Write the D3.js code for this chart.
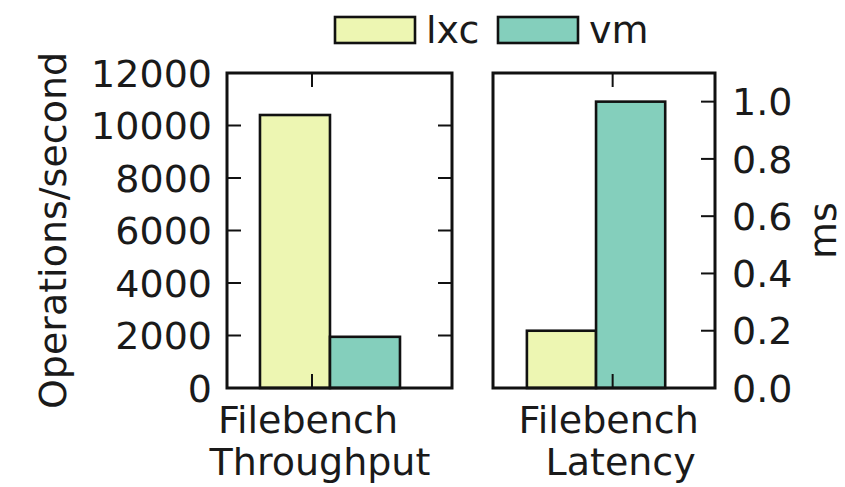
<!DOCTYPE html>
<html>
<head>
<meta charset="utf-8">
<script src="https://cdn.jsdelivr.net/npm/d3@7"></script>
<style>
  html, body { margin: 0; padding: 0; background: #fff; }
  svg { display: block; }
  text { font-family: "DejaVu Sans", sans-serif; fill: #1a1a1a; }
</style>
</head>
<body>
<svg id="chart" width="845" height="487"></svg>
<script>
// ---- data ----
const seriesNames = ["lxc", "vm"];
const seriesColors = ["#edf6b2", "#84cfbc"];
const throughputCategory = ["Filebench", "Throughput"];
const latencyCategory = ["Filebench", "Latency"];
const throughputValues = [10400, 1950];   // lxc, vm (Operations/second)
const latencyValues = [0.2, 1.0];         // lxc, vm (ms)
const throughputTicks = [0, 2000, 4000, 6000, 8000, 10000, 12000];
const latencyTicks = [0, 0.2, 0.4, 0.6, 0.8, 1.0];
const throughputMax = 12000;
const latencyMax = 1.1;

(function () {
// ---- layout ----
const svg = d3.select("#chart");
const plotTop = 73, plotBottom = 388;
const fontSize = 38;
const tickLen = 14;
const edge = "#111";

const panels = [
  { values: throughputValues, label: throughputCategory, ticks: throughputTicks, ymax: throughputMax,
    px: [227, 452], xdom: [-0.471, 2.743], tickPos: 0.743, axisSide: "left", mirror: true,
    fmt: d => String(d) },
  { values: latencyValues, label: latencyCategory, ticks: latencyTicks, ymax: latencyMax,
    px: [493, 715], xdom: [-0.49, 2.72], tickPos: 1.24, axisSide: "right", mirror: false,
    fmt: d3.format(".1f") }
];

panels.forEach(p => {
  const x = d3.scaleLinear().domain(p.xdom).range(p.px);
  const y = d3.scaleLinear().domain([0, p.ymax]).range([plotBottom, plotTop]);
  const g = svg.append("g");

  // bars
  g.selectAll("rect.bar").data(p.values).enter().append("rect")
    .attr("class", "bar")
    .attr("x", (d, i) => x(i))
    .attr("width", (d, i) => x(i + 1) - x(i))
    .attr("y", d => y(d))
    .attr("height", d => y(0) - y(d))
    .attr("fill", (d, i) => seriesColors[i])
    .attr("stroke", edge)
    .attr("stroke-width", 2.6);

  // y axis ticks (inward) + labels
  const yAxisX = p.axisSide === "left" ? p.px[0] : p.px[1];
  const dir = p.axisSide === "left" ? 1 : -1;
  p.ticks.forEach(t => {
    const yy = y(t);
    if (t !== 0 && yy > plotTop + 1) {
      g.append("line").attr("x1", yAxisX).attr("x2", yAxisX + dir * tickLen)
        .attr("y1", yy).attr("y2", yy).attr("stroke", edge).attr("stroke-width", 2);
      if (p.mirror) {
        g.append("line").attr("x1", p.px[1]).attr("x2", p.px[1] - tickLen)
          .attr("y1", yy).attr("y2", yy).attr("stroke", edge).attr("stroke-width", 2);
      }
    }
    g.append("text")
      .attr("x", p.axisSide === "left" ? yAxisX - 15 : yAxisX + 17)
      .attr("y", yy)
      .attr("dy", "0.36em")
      .attr("text-anchor", p.axisSide === "left" ? "end" : "start")
      .attr("font-size", fontSize)
      .text(p.fmt(t));
  });

  // x ticks top and bottom (inward)
  const tx = x(p.tickPos);
  g.append("line").attr("x1", tx).attr("x2", tx).attr("y1", plotTop).attr("y2", plotTop + tickLen)
    .attr("stroke", edge).attr("stroke-width", 2);
  g.append("line").attr("x1", tx).attr("x2", tx).attr("y1", plotBottom).attr("y2", plotBottom - tickLen)
    .attr("stroke", edge).attr("stroke-width", 2);

  // frame
  g.append("rect").attr("x", p.px[0]).attr("y", plotTop)
    .attr("width", p.px[1] - p.px[0]).attr("height", plotBottom - plotTop)
    .attr("fill", "none").attr("stroke", edge).attr("stroke-width", 3);

  // category label (two lines)
  g.append("text").attr("x", tx - 4).attr("y", 433).attr("text-anchor", "middle")
    .attr("font-size", fontSize).text(p.label[0]);
  g.append("text").attr("x", tx + 8).attr("y", 475).attr("text-anchor", "middle")
    .attr("font-size", fontSize).text(p.label[1]);
});

// axis titles
svg.append("text")
  .attr("transform", `translate(66,${(plotTop + plotBottom) / 2}) rotate(-90)`)
  .attr("text-anchor", "middle").attr("font-size", fontSize)
  .text("Operations/second");
svg.append("text")
  .attr("transform", `translate(836,${(plotTop + plotBottom) / 2}) rotate(-90)`)
  .attr("text-anchor", "middle").attr("font-size", fontSize)
  .text("ms");

// legend
const legendX = [335, 498];
seriesNames.forEach((name, i) => {
  svg.append("rect").attr("x", legendX[i]).attr("y", 17).attr("width", 80).attr("height", 26)
    .attr("fill", seriesColors[i]).attr("stroke", edge).attr("stroke-width", 2.6);
  svg.append("text").attr("x", legendX[i] + 91).attr("y", 43)
    .attr("font-size", fontSize).text(name);
});
})();
</script>
</body>
</html>
